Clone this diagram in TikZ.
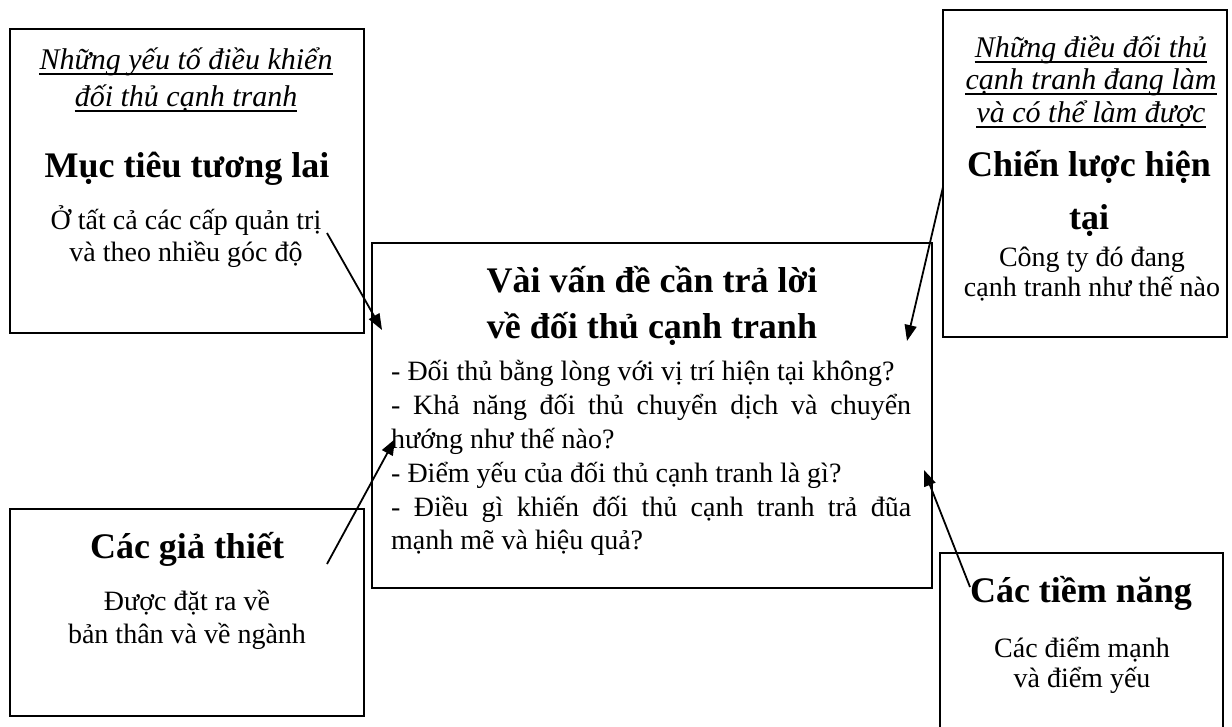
\documentclass[tikz,border=0pt]{standalone}
\usepackage{fontspec}
\setmainfont{Liberation Serif}
\usetikzlibrary{arrows.meta}
\begin{document}
\begin{tikzpicture}[x=1pt,y=-1pt,
  frame/.style={draw=black, line width=2.4pt, inner sep=0pt},
  hd/.style={font=\fontsize{36}{40}\selectfont\bfseries, anchor=base, inner sep=0pt},
  bd/.style={font=\fontsize{28}{30}\selectfont, anchor=base, inner sep=0pt},
  itl/.style={font=\fontsize{30}{33}\selectfont\itshape, anchor=base, inner sep=0pt},
  uline/.style={line width=1.4pt},
  arr/.style={line width=1.8pt, -{Triangle[length=16pt,width=12pt]}}]
\useasboundingbox (0,0) rectangle (1232,727);

% frames
\node[frame, minimum width=354pt, minimum height=304pt] (b1) at (187,181) {};
\node[frame, minimum width=284pt, minimum height=327pt] (b2) at (1085,173.5) {};
\node[frame, minimum width=560pt, minimum height=345pt] (bc) at (652,415.5) {};
\node[frame, minimum width=354pt, minimum height=207pt] (b3) at (187,612.5) {};
\node[frame, minimum width=283pt, minimum height=187pt] (b4) at (1081.5,646.5) {};

% box 1
\node[itl] (t11) at (186,70) {Những yếu tố điều khiển};
\node[itl] (t12) at (186,107) {đối thủ cạnh tranh};
\draw[uline] ([yshift=-4pt]t11.base west) -- ([yshift=-4pt]t11.base east);
\draw[uline] ([yshift=-4pt]t12.base west) -- ([yshift=-4pt]t12.base east);
\node[hd] (h1) at (187,178) {Mục tiêu tương lai};
\node[bd] (s11) at (186,230) {Ở tất cả các cấp quản trị};
\node[bd] (s12) at (186,262) {và theo nhiều góc độ};

% box 2
\node[itl] (t21) at (1091,58) {Những điều đối thủ};
\node[itl] (t22) at (1091,90) {cạnh tranh đang làm};
\node[itl] (t23) at (1091,123) {và có thể làm được};
\draw[uline] ([yshift=-4pt]t21.base west) -- ([yshift=-4pt]t21.base east);
\draw[uline] ([yshift=-4pt]t22.base west) -- ([yshift=-4pt]t22.base east);
\draw[uline] ([yshift=-4pt]t23.base west) -- ([yshift=-4pt]t23.base east);
\node[hd] (h21) at (1089,177) {Chiến lược hiện};
\node[hd] (h22) at (1089,230) {tại};
\node[bd] (s21) at (1092,267) {Công ty đó đang};
\node[bd] (s22) at (1092,297) {cạnh tranh như thế nào};

% center box
\node[hd] (hc1) at (652,293) {Vài vấn đề cần trả lời};
\node[hd] (hc2) at (652,338) {về đối thủ cạnh tranh};
\node[anchor=base west, inner sep=0pt, font=\fontsize{28}{33.8}\selectfont] (qs) at (391,381)
 {\parbox[t]{520pt}{\hyphenpenalty=10000
 - Đối thủ bằng lòng với vị trí hiện tại không?\par
 - Khả năng đối thủ chuyển dịch và chuyển\linebreak hướng như thế nào?\par
 - Điểm yếu của đối thủ cạnh tranh là gì?\par
 - Điều gì khiến đối thủ cạnh tranh trả đũa\linebreak mạnh mẽ và hiệu quả?}};

% box 3
\node[hd] (h3) at (187,558) {Các giả thiết};
\node[bd] (s31) at (187,610) {Được đặt ra về};
\node[bd] (s32) at (187,643) {bản thân và về ngành};

% box 4
\node[hd] (h4) at (1081,602) {Các tiềm năng};
\node[bd] (s41) at (1082,657) {Các điểm mạnh};
\node[bd] (s42) at (1082,687) {và điểm yếu};

% arrows
\coordinate (a1s) at (327,233);
\coordinate (a1e) at (382,330);
\coordinate (a2s) at (943,187);
\coordinate (a2e) at (907,341);
\coordinate (a3s) at (327,564);
\coordinate (a3e) at (395,439);
\coordinate (a4s) at (970,587);
\coordinate (a4e) at (924,470);
\draw[arr] (a1s) -- (a1e);
\draw[arr] (a2s) -- (a2e);
\draw[arr] (a3s) -- (a3e);
\draw[arr] (a4s) -- (a4e);
\end{tikzpicture}
\end{document}
